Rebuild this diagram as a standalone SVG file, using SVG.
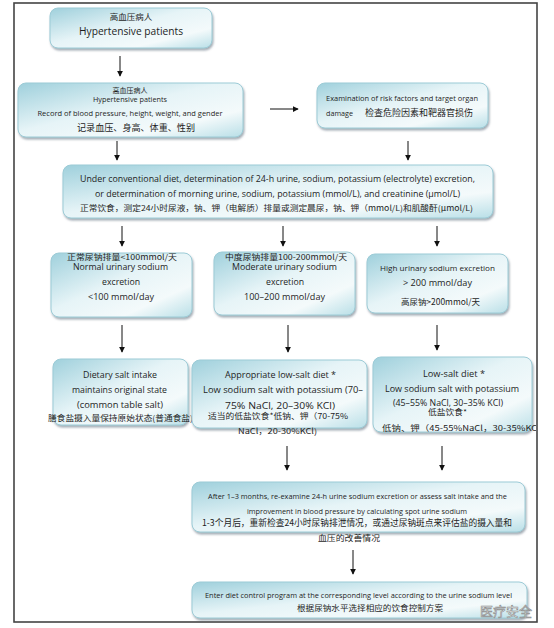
<svg xmlns="http://www.w3.org/2000/svg" width="554" height="628" viewBox="0 0 554 628">
<style>
.box{fill:url(#g);stroke:#9ccbd6;stroke-width:1;filter:url(#sh)}
.en{font-family:"Open Sans","Noto Sans CJK SC",sans-serif;fill:#1e1e1e}
.zh{font-family:"Noto Sans CJK SC","Open Sans",sans-serif;fill:#1e1e1e}
.c{text-anchor:middle}
.ln{stroke:#111;stroke-width:1;fill:none;marker-end:url(#ah)}
</style>
<defs>
<linearGradient id="g" x1="0" y1="0" x2="1" y2="1">
<stop offset="0" stop-color="#9fd0dc"/>
<stop offset="0.45" stop-color="#e6f4f7"/>
<stop offset="0.75" stop-color="#f4fafb"/>
<stop offset="1" stop-color="#b9dfe7"/>
</linearGradient>
<filter id="sh" x="-5%" y="-10%" width="115%" height="130%">
<feDropShadow dx="1" dy="2" stdDeviation="1.2" flood-color="#556677" flood-opacity="0.55"/>
</filter>
<marker id="ah" viewBox="0 0 8 8" refX="7" refY="4" markerWidth="6" markerHeight="6" markerUnits="userSpaceOnUse" orient="auto">
<path d="M0,0 L8,4 L0,8 z" fill="#111"/>
</marker>
<clipPath id="frameclip"><rect x="14" y="3" width="522" height="619"/></clipPath>
</defs>
<rect x="0" y="0" width="554" height="628" fill="#fff"/>
<rect x="14" y="3" width="523" height="619" fill="#fff" stroke="#444" stroke-width="1.6"/>

<g id="n1">
<rect class="box" x="50" y="8" width="162" height="40" rx="8"/>
<text class="zh c" x="131" y="20" font-size="8.5">高血压病人</text>
<text class="en c" x="131" y="34.5" font-size="11.5" textLength="104" lengthAdjust="spacingAndGlyphs">Hypertensive patients</text>
</g>
<g id="n2">
<rect class="box" x="18" y="83" width="225" height="54" rx="8"/>
<text class="zh c" x="130" y="93" font-size="7">高血压病人</text>
<text class="en c" x="130" y="101.5" font-size="7" textLength="74" lengthAdjust="spacingAndGlyphs">Hypertensive patients</text>
<text class="en c" x="130" y="116" font-size="8" textLength="185" lengthAdjust="spacingAndGlyphs">Record of blood pressure, height, weight, and gender</text>
<text class="zh c" x="136" y="131" font-size="9" textLength="118" lengthAdjust="spacingAndGlyphs">记录血压、身高、体重、性别</text>
</g>
<g id="n3">
<rect class="box" x="317" y="83" width="171" height="45" rx="8"/>
<text class="en" x="326" y="101" font-size="7.5" textLength="152" lengthAdjust="spacingAndGlyphs">Examination of risk factors and target organ</text>
<text class="en" x="326" y="116" font-size="7.5" textLength="27" lengthAdjust="spacingAndGlyphs">damage</text>
<text class="zh" x="365" y="116" font-size="9" textLength="108" lengthAdjust="spacingAndGlyphs">检查危险因素和靶器官损伤</text>
</g>
<g id="n4">
<rect class="box" x="63" y="165" width="430" height="53" rx="8"/>
<text class="en c" x="277.5" y="182" font-size="8.5" textLength="395" lengthAdjust="spacingAndGlyphs">Under conventional diet, determination of 24-h urine, sodium, potassium (electrolyte) excretion,</text>
<text class="en c" x="277.5" y="197" font-size="8.5" textLength="365" lengthAdjust="spacingAndGlyphs">or determination of morning urine, sodium, potassium (mmol/L), and creatinine (μmol/L)</text>
<text class="zh c" x="276.5" y="211" font-size="8" textLength="393" lengthAdjust="spacingAndGlyphs">正常饮食，测定24小时尿液，钠、钾（电解质）排量或测定晨尿，钠、钾（mmol/L)和肌酸酐(μmol/L)</text>
</g>
<g id="n5a">
<rect class="box" x="51" y="253" width="141" height="64" rx="8"/>
<text class="zh c" x="122" y="259.5" font-size="8" textLength="110" lengthAdjust="spacingAndGlyphs">正常尿钠排量&lt;100mmol/天</text>
<text class="en c" x="120.5" y="269.5" font-size="8.5" textLength="95" lengthAdjust="spacingAndGlyphs">Normal urinary sodium</text>
<text class="en c" x="121" y="285" font-size="8.5" textLength="38" lengthAdjust="spacingAndGlyphs">excretion</text>
<text class="en c" x="121" y="300" font-size="8.5" textLength="66" lengthAdjust="spacingAndGlyphs">&lt;100 mmol/day</text>
</g>
<g id="n5b">
<rect class="box" x="214" y="252" width="141" height="63" rx="8"/>
<text class="zh c" x="286" y="259.5" font-size="8" textLength="122" lengthAdjust="spacingAndGlyphs">中度尿钠排量100-200mmol/天</text>
<text class="en c" x="284.5" y="269.5" font-size="8.5" textLength="105" lengthAdjust="spacingAndGlyphs">Moderate urinary sodium</text>
<text class="en c" x="285" y="285" font-size="8.5" textLength="38" lengthAdjust="spacingAndGlyphs">excretion</text>
<text class="en c" x="284.5" y="300" font-size="8.5" textLength="81" lengthAdjust="spacingAndGlyphs">100–200 mmol/day</text>
</g>
<g id="n5c">
<rect class="box" x="367" y="254" width="141" height="59" rx="8"/>
<text class="en c" x="437.5" y="271" font-size="8" textLength="115" lengthAdjust="spacingAndGlyphs">High urinary sodium excretion</text>
<text class="en c" x="437.5" y="286" font-size="8.5" textLength="69" lengthAdjust="spacingAndGlyphs">&gt; 200 mmol/day</text>
<text class="zh c" x="440.5" y="305" font-size="8.5" textLength="79" lengthAdjust="spacingAndGlyphs">高尿钠&gt;200mmol/天</text>
</g>
<g id="n6a">
<rect class="box" x="53" y="359" width="135" height="66" rx="8"/>
<text class="en c" x="120" y="378" font-size="8.5" textLength="74" lengthAdjust="spacingAndGlyphs">Dietary salt intake</text>
<text class="en c" x="119.5" y="393" font-size="8.5" textLength="95" lengthAdjust="spacingAndGlyphs">maintains original state</text>
<text class="en c" x="120" y="408" font-size="8.5" textLength="86" lengthAdjust="spacingAndGlyphs">(common table salt)</text>
<text class="zh c" x="120.5" y="421" font-size="8" textLength="145" lengthAdjust="spacingAndGlyphs">膳食盐摄入量保持原始状态(普通食盐)</text>
</g>
<g id="n6b">
<rect class="box" x="192" y="360" width="175" height="68" rx="8"/>
<text class="en c" x="280.5" y="378" font-size="8.5" textLength="111" lengthAdjust="spacingAndGlyphs">Appropriate low-salt diet *</text>
<text class="en c" x="283" y="393" font-size="8.5" textLength="160" lengthAdjust="spacingAndGlyphs">Low sodium salt with potassium (70–</text>
<text class="en c" x="280" y="408.5" font-size="8.5" textLength="110" lengthAdjust="spacingAndGlyphs">75% NaCl, 20–30% KCl)</text>
<text class="zh c" x="278" y="418.5" font-size="8" textLength="140" lengthAdjust="spacingAndGlyphs">适当的低盐饮食*低钠、钾（70-75%</text>
<text class="zh c" x="277.5" y="434" font-size="8" textLength="79" lengthAdjust="spacingAndGlyphs">NaCl，20-30%KCl)</text>
</g>
<g id="n6c">
<rect class="box" x="373" y="357" width="159" height="75" rx="8"/>
<text class="en c" x="454" y="377" font-size="8.5" textLength="62" lengthAdjust="spacingAndGlyphs">Low-salt diet *</text>
<text class="en c" x="452" y="392" font-size="8.5" textLength="134" lengthAdjust="spacingAndGlyphs">Low sodium salt with potassium</text>
<text class="en c" x="448" y="405.5" font-size="8.5" textLength="110" lengthAdjust="spacingAndGlyphs">(45–55% NaCl, 30–35% KCl)</text>
<text class="zh c" x="447.5" y="415" font-size="7.5" textLength="39" lengthAdjust="spacingAndGlyphs">低盐饮食*</text>
<text class="zh" x="382" y="431" font-size="8" textLength="158" lengthAdjust="spacingAndGlyphs" clip-path="url(#frameclip)">低钠、钾（45-55%NaCl，30-35%KCl</text>
</g>
<g id="n7">
<rect class="box" x="192" y="482" width="333" height="50" rx="8"/>
<text class="en c" x="357.5" y="499" font-size="7.5" textLength="299" lengthAdjust="spacingAndGlyphs">After 1–3 months, re-examine 24-h urine sodium excretion or assess salt intake and the</text>
<text class="en c" x="357" y="514" font-size="7.5" textLength="220" lengthAdjust="spacingAndGlyphs">improvement in blood pressure by calculating spot urine sodium</text>
<text class="zh c" x="357" y="526" font-size="9" textLength="310" lengthAdjust="spacingAndGlyphs">1-3个月后，重新检查24小时尿钠排泄情况，或通过尿钠斑点来评估盐的摄入量和</text>
<text class="zh c" x="349" y="541" font-size="8.5" textLength="62" lengthAdjust="spacingAndGlyphs">血压的改善情况</text>
</g>
<g id="n8">
<rect class="box" x="192" y="582" width="335" height="36" rx="8"/>
<text class="en c" x="358.5" y="598" font-size="7.5" textLength="307" lengthAdjust="spacingAndGlyphs">Enter diet control program at the corresponding level according to the urine sodium level</text>
<text class="zh c" x="370" y="611" font-size="8.5" textLength="146" lengthAdjust="spacingAndGlyphs">根据尿钠水平选择相应的饮食控制方案</text>
</g>

<g id="connectors">
<line class="ln" x1="120" y1="56" x2="120" y2="76"/>
<line class="ln" x1="270" y1="109" x2="298" y2="109"/>
<line class="ln" x1="117" y1="141" x2="117" y2="160"/>
<line class="ln" x1="408" y1="141" x2="408" y2="160"/>
<line class="ln" x1="122" y1="226" x2="122" y2="246"/>
<line class="ln" x1="283" y1="226" x2="283" y2="246"/>
<line class="ln" x1="437" y1="226" x2="437" y2="246"/>
<line class="ln" x1="122" y1="325" x2="122" y2="352"/>
<line class="ln" x1="288" y1="325" x2="288" y2="352"/>
<line class="ln" x1="437" y1="325" x2="437" y2="350"/>
<line class="ln" x1="287" y1="446" x2="287" y2="470"/>
<line class="ln" x1="442" y1="446" x2="442" y2="470"/>
<line class="ln" x1="353" y1="550" x2="353" y2="574"/>
</g>

<text x="480" y="616" font-family="Noto Sans CJK SC,sans-serif" font-size="13" fill="#fff" stroke="#8a8a8a" stroke-width="0.6">医疗安全</text>
</svg>
